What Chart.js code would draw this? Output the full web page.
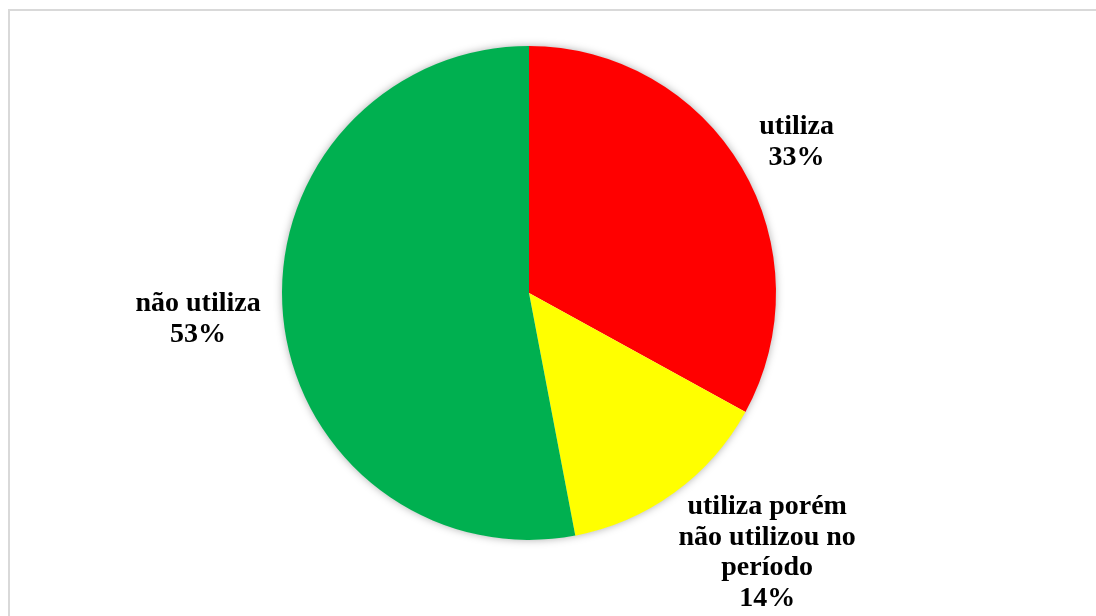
<!DOCTYPE html>
<html>
<head>
<meta charset="utf-8">
<script src="https://cdn.jsdelivr.net/npm/chart.js@4.4.1/dist/chart.umd.min.js"></script>
<style>
  html, body { margin: 0; padding: 0; background: #ffffff; overflow: hidden; }
  #frame { position: absolute; left: 8px; top: 9px; width: 1200px; height: 700px;
           border: 2px solid #d9d9d9; box-sizing: border-box; }
  #wrap { position: absolute; left: 0; top: 0; width: 1096px; height: 616px; }
</style>
</head>
<body>
<div id="frame"></div>
<div id="wrap"><canvas id="chart" width="1096" height="616"></canvas></div>
<script>
// Categories and their shares (%)
const categories = [
  ["utiliza"],
  ["utiliza porém", "não utilizou no", "período"],
  ["não utiliza"]
];
const shares = [33, 14, 53];
const sliceColors = ["#FF0000", "#FFFF00", "#00B050"];

// Label placement relative to each slice's outer mid point (px)
const labelOffsets = [[55, -25], [93, 60], [-85, 3]];

// Soft shadow around the whole pie, drawn under the slices
const pieShadow = {
  id: 'pieShadow',
  beforeDatasetsDraw(chart) {
    const arc = chart.getDatasetMeta(0).data[0];
    if (!arc) return;
    const ctx = chart.ctx;
    ctx.save();
    ctx.shadowColor = 'rgba(0,0,0,0.35)';
    ctx.shadowBlur = 8;
    ctx.fillStyle = '#ffffff';
    ctx.beginPath();
    ctx.arc(arc.x, arc.y, arc.outerRadius - 0.5, 0, Math.PI * 2);
    ctx.fill();
    ctx.restore();
  }
};

const outsideLabels = {
  id: 'outsideLabels',
  afterDatasetsDraw(chart) {
    const ctx = chart.ctx;
    const meta = chart.getDatasetMeta(0);
    const data = chart.data.datasets[0].data;
    ctx.save();
    ctx.font = 'bold 28px "Liberation Serif", "Times New Roman", serif';
    ctx.fillStyle = '#000000';
    ctx.textAlign = 'center';
    ctx.textBaseline = 'middle';
    const lineH = 30.7;
    meta.data.forEach((arc, i) => {
      const mid = (arc.startAngle + arc.endAngle) / 2;
      const ox = arc.x + Math.cos(mid) * arc.outerRadius;
      const oy = arc.y + Math.sin(mid) * arc.outerRadius;
      const cx = ox + labelOffsets[i][0];
      const cy = oy + labelOffsets[i][1];
      const lines = categories[i].concat([data[i] + '%']);
      const top = cy - (lines.length - 1) * lineH / 2;
      lines.forEach((t, k) => ctx.fillText(t, cx, top + k * lineH));
    });
    ctx.restore();
  }
};

new Chart(document.getElementById('chart'), {
  type: 'pie',
  data: {
    labels: categories.map(c => c.join(' ')),
    datasets: [{
      data: shares,
      backgroundColor: sliceColors,
      borderWidth: 0
    }]
  },
  options: {
    responsive: false,
    animation: false,
    rotation: 0,
    layout: { padding: { top: 46, bottom: 76, left: 200, right: 238 } },
    plugins: {
      legend: { display: false },
      tooltip: { enabled: false }
    }
  },
  plugins: [pieShadow, outsideLabels]
});
</script>
</body>
</html>
